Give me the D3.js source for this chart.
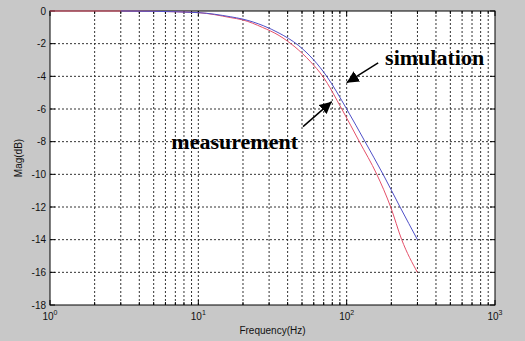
<!DOCTYPE html>
<html>
<head>
<script src="https://d3js.org/d3.v7.min.js"></script>
<style>
  body { margin: 0; background: #c8c8c8; }
  .tick-label { font-family: "Liberation Sans", Arial, sans-serif; font-size: 10px; fill: #111; }
  .axis-title { font-family: "Liberation Sans", Arial, sans-serif; font-size: 10px; fill: #111; text-anchor: middle; }
  .note { font-family: "Liberation Serif", "Times New Roman", serif; font-size: 22px; font-weight: bold; fill: #000; }
</style>
</head>
<body>
<div id="chart"></div>
<script>
// simulated response (Hz, dB)
const simFreq = [3, 5, 10, 16.4, 20, 27.4, 35, 47.2, 60, 73.4, 100, 133, 176, 229, 300];
const simMag  = [0, -0.02, -0.1, -0.35, -0.5, -0.9, -1.35, -2.1, -3.0, -4.0, -6.0, -8.0, -10.0, -12.0, -14.0];

// measured response (Hz, dB)
const measFreq = [1, 3, 5, 10, 16.4, 20, 27, 35, 44.8, 57, 69, 92.7, 121.8, 159.6, 198, 235, 300];
const measMag  = [0, 0, -0.02, -0.1, -0.4, -0.55, -1.0, -1.5, -2.2, -3.1, -4.0, -6.0, -8.0, -10.0, -12.0, -14.0, -16.0];

const yTicks = [0, -2, -4, -6, -8, -10, -12, -14, -16, -18];
const xDecades = [0, 1, 2, 3];

const W = 525, H = 341;
const margin = { top: 11, right: 30, bottom: 36, left: 50 };
const width = W - margin.left - margin.right;
const height = H - margin.top - margin.bottom;

const svg = d3.select("#chart").append("svg")
  .attr("width", W).attr("height", H);

const g = svg.append("g")
  .attr("transform", `translate(${margin.left},${margin.top})`);

const x = d3.scaleLog().domain([1, 1000]).range([0, width]);
const y = d3.scaleLinear().domain([-18, 0]).range([height, 0]);

// plot background
g.append("rect")
  .attr("width", width).attr("height", height)
  .attr("fill", "#fff");

// minor + major x positions
const xGrid = [];
xDecades.slice(0, -1).forEach(d => {
  for (let k = 1; k <= 9; k++) xGrid.push(k * Math.pow(10, d));
});
xGrid.push(1000);

// grid
g.append("g").selectAll("line")
  .data(xGrid.filter(v => v > 1 && v < 1000))
  .join("line")
  .attr("x1", d => x(d)).attr("x2", d => x(d))
  .attr("y1", 0).attr("y2", height)
  .attr("stroke", "#333").attr("stroke-dasharray", "2,2");

g.append("g").selectAll("line")
  .data(yTicks.filter(v => v > -18 && v < 0))
  .join("line")
  .attr("x1", 0).attr("x2", width)
  .attr("y1", d => y(d)).attr("y2", d => y(d))
  .attr("stroke", "#333").attr("stroke-dasharray", "2,2");

// ticks (inside, both sides)
const tickG = g.append("g").attr("stroke", "#000");
xGrid.forEach(v => {
  const major = Number.isInteger(Math.log10(v));
  const len = major ? 5 : 3;
  tickG.append("line").attr("x1", x(v)).attr("x2", x(v)).attr("y1", height).attr("y2", height - len);
  tickG.append("line").attr("x1", x(v)).attr("x2", x(v)).attr("y1", 0).attr("y2", len);
});
yTicks.forEach(v => {
  tickG.append("line").attr("x1", 0).attr("x2", 5).attr("y1", y(v)).attr("y2", y(v));
  tickG.append("line").attr("x1", width).attr("x2", width - 5).attr("y1", y(v)).attr("y2", y(v));
});

// axis box
g.append("rect")
  .attr("width", width).attr("height", height)
  .attr("fill", "none").attr("stroke", "#000").attr("stroke-width", 1);

// y tick labels
g.append("g").selectAll("text")
  .data(yTicks)
  .join("text")
  .attr("class", "tick-label")
  .attr("x", -4).attr("y", d => y(d))
  .attr("dy", "0.35em")
  .attr("text-anchor", "end")
  .text(d => d);

// x tick labels 10^n
const xl = g.append("g").selectAll("text")
  .data(xDecades)
  .join("text")
  .attr("class", "tick-label")
  .attr("x", d => x(Math.pow(10, d)))
  .attr("y", height + 15)
  .attr("text-anchor", "middle");
xl.append("tspan").text("10");
xl.append("tspan").attr("dy", -5).attr("font-size", "7px").text(d => d);

// axis titles
g.append("text").attr("class", "axis-title")
  .attr("x", width / 2).attr("y", height + 29)
  .text("Frequency(Hz)");
g.append("text").attr("class", "axis-title")
  .attr("transform", `translate(-28,${height / 2}) rotate(-90)`)
  .text("Mag(dB)");

// curves
const line = d3.line()
  .x(d => x(d[0])).y(d => y(d[1]))
  .curve(d3.curveMonotoneX);

g.append("path")
  .datum(d3.zip(measFreq, measMag))
  .attr("d", line)
  .attr("fill", "none").attr("stroke", "#e5506a").attr("stroke-width", 1);

g.append("path")
  .datum(d3.zip(simFreq, simMag))
  .attr("d", line)
  .attr("fill", "none").attr("stroke", "#5050c8").attr("stroke-width", 1);

// annotations
svg.append("defs").append("marker")
  .attr("id", "arrow")
  .attr("viewBox", "0 0 10 10")
  .attr("refX", 10).attr("refY", 5)
  .attr("markerWidth", 12).attr("markerHeight", 12)
  .attr("markerUnits", "userSpaceOnUse")
  .attr("orient", "auto")
  .append("path")
  .attr("d", "M0,0 L10,5 L0,10 Z")
  .attr("fill", "#000");

function arrow(f0, m0, f1, m1) {
  g.append("line")
    .attr("x1", x(f0)).attr("y1", y(m0))
    .attr("x2", x(f1)).attr("y2", y(m1))
    .attr("stroke", "#000").attr("stroke-width", 1.5)
    .attr("marker-end", "url(#arrow)");
}

arrow(163, -3.18, 100, -4.39);
arrow(50.8, -7.08, 79.3, -5.55);

g.append("text").attr("class", "note")
  .attr("x", x(181.6)).attr("y", y(-3.31))
  .text("simulation");
g.append("text").attr("class", "note")
  .attr("x", x(47)).attr("y", y(-8.45))
  .attr("text-anchor", "end")
  .text("measurement");
</script>
</body>
</html>
